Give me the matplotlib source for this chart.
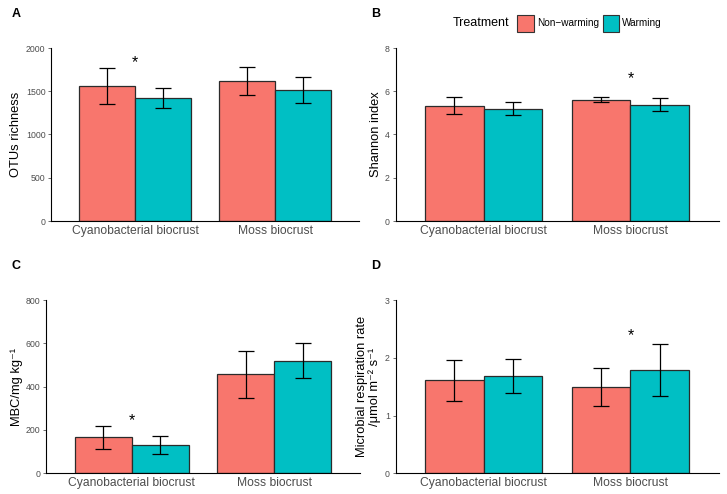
import numpy as np
import matplotlib.pyplot as plt
from matplotlib.patches import Rectangle

plt.rcParams['font.family'] = ['Liberation Sans', 'DejaVu Sans']

# Data
groups = ["Cyanobacterial biocrust", "Moss biocrust"]
treatments = ["Non\u2212warming", "Warming"]
colors = ["#F8766D", "#00BFC4"]

otu_nw = [1560, 1618]
otu_nw_err = [210, 163]
otu_w = [1425, 1512]
otu_w_err = [117, 150]

shannon_nw = [5.34, 5.61]
shannon_nw_err = [0.41, 0.11]
shannon_w = [5.20, 5.37]
shannon_w_err = [0.28, 0.30]

mbc_nw = [166, 457]
mbc_nw_err = [52, 109]
mbc_w = [131, 520]
mbc_w_err = [41, 80]

resp_nw = [1.61, 1.49]
resp_nw_err = [0.35, 0.33]
resp_w = [1.685, 1.78]
resp_w_err = [0.29, 0.45]

# significance stars: (group index, y)
star_a = (0, 1830)
star_b = (1, 6.57)
star_c = (0, 245)
star_d = (1, 2.39)

panels = [
    ("A", otu_nw, otu_nw_err, otu_w, otu_w_err, 2000, [0, 500, 1000, 1500, 2000],
     "OTUs richness", star_a),
    ("B", shannon_nw, shannon_nw_err, shannon_w, shannon_w_err, 8, [0, 2, 4, 6, 8],
     "Shannon index", star_b),
    ("C", mbc_nw, mbc_nw_err, mbc_w, mbc_w_err, 800, [0, 200, 400, 600, 800],
     "MBC/mg kg\u207b\u00b9", star_c),
    ("D", resp_nw, resp_nw_err, resp_w, resp_w_err, 3, [0, 1, 2, 3],
     "Microbial respiration rate\n/\u03bcmol m\u207b\u00b2 s\u207b\u00b9", star_d),
]

W, H = 727, 494
fig = plt.figure(figsize=(W / 100, H / 100), dpi=100)

# axes boxes in pixels: left, top, right, bottom
boxes = {
    "A": (51, 48, 359, 221),
    "B": (395.5, 48, 718.5, 221),
    "C": (46, 300, 360, 473.3),
    "D": (395.5, 300, 718.5, 473.3),
}
label_pos = {"A": (16, 14), "B": (376, 14), "C": (16, 266), "D": (376, 266)}
ylabel_x = {"A": 16, "B": 376, "C": 16.5, "D": 368.5}

x = np.arange(1, len(groups) + 1)
bw = 0.4

for name, nw, nwe, w, we, ymax, yticks, ylab, star in panels:
    l, t, r, b = boxes[name]
    ax = fig.add_axes([l / W, 1 - b / H, (r - l) / W, (b - t) / H])
    for vals, errs, col, off in [(nw, nwe, colors[0], -bw / 2), (w, we, colors[1], bw / 2)]:
        ax.bar(x + off, vals, width=bw, color=col, edgecolor="#2b2b2b", linewidth=0.9, zorder=2)
        ax.errorbar(x + off, vals, yerr=errs, fmt="none", ecolor="black",
                    elinewidth=0.9, capsize=5.5, capthick=0.9, zorder=3)
    gi, sy = star
    ax.text(x[gi], sy, "*", ha="center", va="center", fontsize=11.5, color="black")

    ax.set_xlim(0.4, 2.6)
    ax.set_ylim(0, ymax)
    ax.set_yticks(yticks)
    ax.set_xticks(x)
    ax.set_xticklabels(groups, fontsize=8.7, color="#4D4D4D")
    ax.tick_params(axis="x", length=0, pad=3)
    ax.tick_params(axis="y", length=2, width=0.5, color="#333333", labelsize=6.3,
                   labelcolor="#4D4D4D", pad=2)
    for s in ["top", "right"]:
        ax.spines[s].set_visible(False)
    for s in ["left", "bottom"]:
        ax.spines[s].set_linewidth(0.8)
        ax.spines[s].set_color("black")

    px, py = label_pos[name]
    fig.text(px / W, 1 - py / H, name, fontsize=9, fontweight="bold",
             ha="center", va="center")
    fig.text(ylabel_x[name] / W, 1 - ((t + b) / 2) / H, ylab, fontsize=9.3,
             rotation=90, ha="center", va="center", linespacing=1.1)

# legend (drawn in figure pixels)
ly = 23.3
fig.text(481 / W, 1 - ly / H, "Treatment", fontsize=9, ha="center", va="center")
for (px0, tx0), col, lab in zip([(517.3, 536.7), (602.7, 621.7)], colors, treatments):
    fig.patches.append(Rectangle((px0 / W, 1 - 31.7 / H), 16.7 / W, 16.7 / H,
                                 transform=fig.transFigure, facecolor=col,
                                 edgecolor="#333333", linewidth=0.8))
    fig.text(tx0 / W, 1 - ly / H, lab, fontsize=7.2, ha="left", va="center")

fig.savefig("out.png", dpi=100)
